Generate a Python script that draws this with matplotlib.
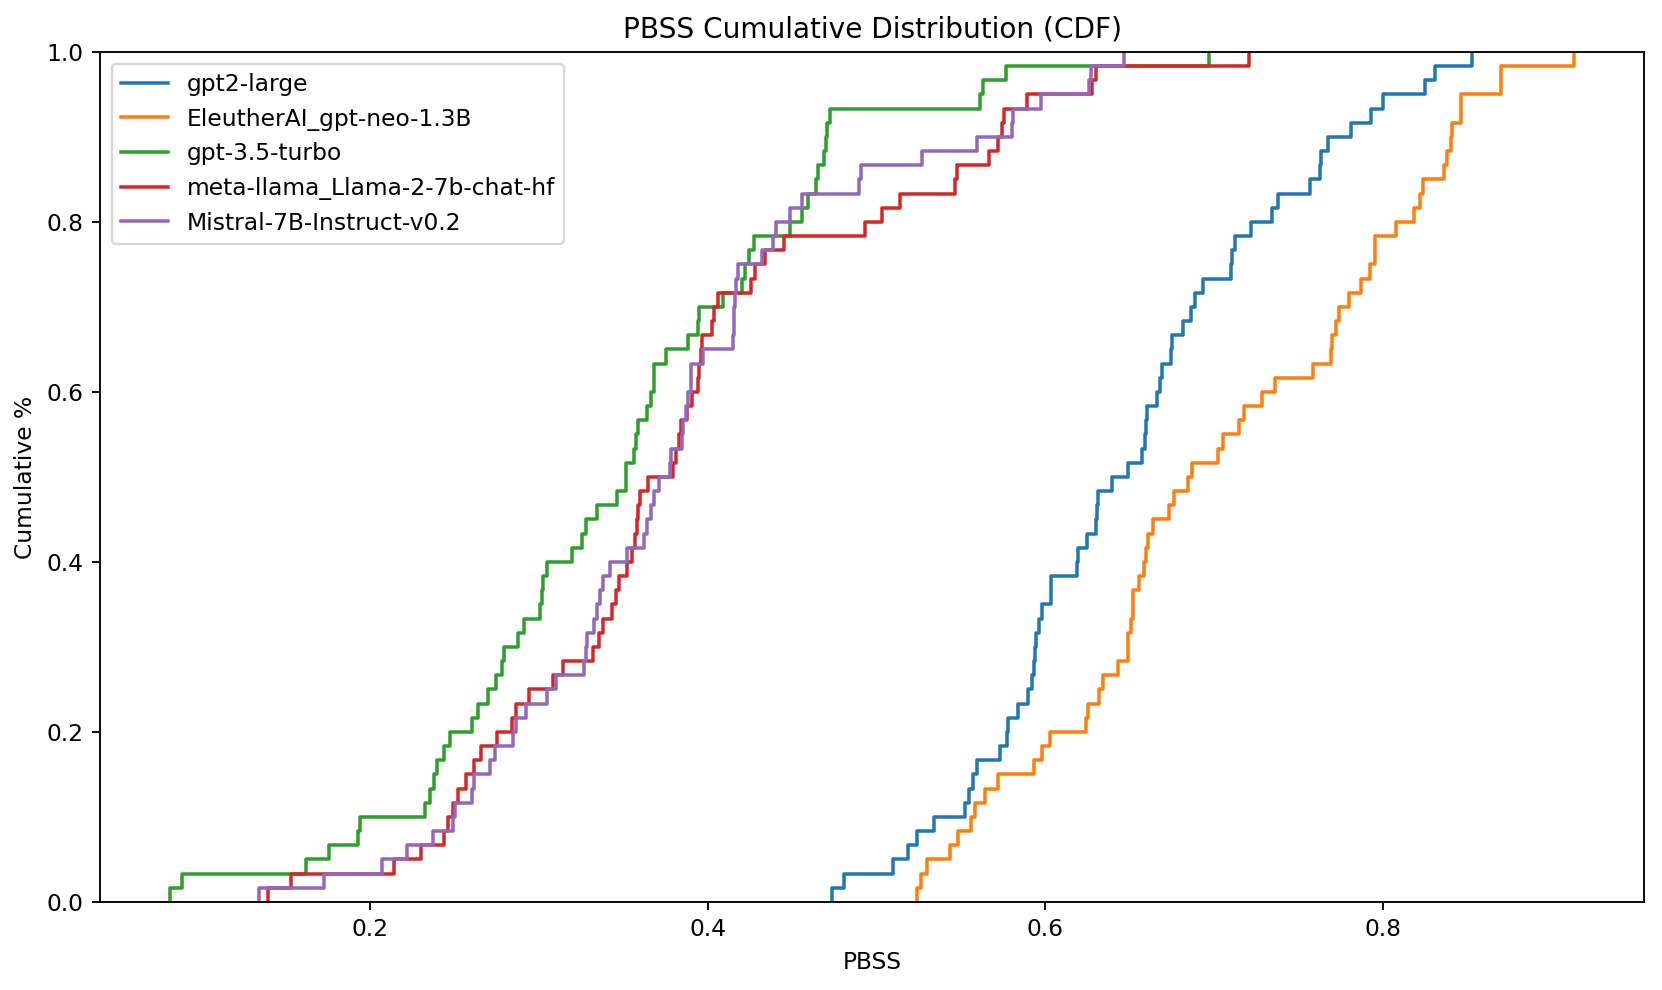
import matplotlib
matplotlib.use("Agg")
import matplotlib.pyplot as plt
import numpy as np

gpt2_large = [0.4736, 0.4805, 0.5098, 0.5187, 0.5240, 0.5339, 0.5522, 0.5546, 0.5570, 0.5595,
              0.5730, 0.5773, 0.5779, 0.5838, 0.5896, 0.5921, 0.5931, 0.5941, 0.5947, 0.5961,
              0.5984, 0.6036, 0.6036, 0.6187, 0.6193, 0.6251, 0.6302, 0.6310, 0.6316, 0.6395,
              0.6493, 0.6572, 0.6592, 0.6598, 0.6602, 0.6661, 0.6681, 0.6695, 0.6746, 0.6750,
              0.6819, 0.6865, 0.6888, 0.6937, 0.7101, 0.7105, 0.7125, 0.7223, 0.7346, 0.7381,
              0.7569, 0.7628, 0.7638, 0.7677, 0.7815, 0.7934, 0.8003, 0.8250, 0.8309, 0.8530]

gpt_neo = [0.5238, 0.5263, 0.5299, 0.5438, 0.5481, 0.5562, 0.5582, 0.5645, 0.5720, 0.5931,
           0.5984, 0.6030, 0.6245, 0.6252, 0.6320, 0.6343, 0.6430, 0.6489, 0.6489, 0.6510,
           0.6520, 0.6523, 0.6555, 0.6588, 0.6596, 0.6608, 0.6641, 0.6734, 0.6766, 0.6849,
           0.6870, 0.7024, 0.7053, 0.7147, 0.7180, 0.7283, 0.7362, 0.7589, 0.7693, 0.7701,
           0.7727, 0.7743, 0.7800, 0.7871, 0.7924, 0.7955, 0.7955, 0.8082, 0.8187, 0.8220,
           0.8240, 0.8364, 0.8384, 0.8404, 0.8412, 0.8467, 0.8467, 0.8702, 0.8702, 0.9134]

gpt35_turbo = [0.0814, 0.0883, 0.1616, 0.1757, 0.1925, 0.1939, 0.2325, 0.2353, 0.2376, 0.2395,
               0.2439, 0.2471, 0.2602, 0.2640, 0.2700, 0.2744, 0.2783, 0.2795, 0.2876, 0.2910,
               0.3004, 0.3020, 0.3026, 0.3046, 0.3198, 0.3253, 0.3277, 0.3346, 0.3464, 0.3517,
               0.3517, 0.3563, 0.3573, 0.3588, 0.3642, 0.3662, 0.3681, 0.3681, 0.3750, 0.3883,
               0.3942, 0.3948, 0.4092, 0.4204, 0.4218, 0.4244, 0.4273, 0.4490, 0.4556, 0.4595,
               0.4642, 0.4654, 0.4688, 0.4701, 0.4707, 0.4727, 0.5615, 0.5629, 0.5767, 0.6971]

llama2_chat = [0.1391, 0.1529, 0.2142, 0.2300, 0.2436, 0.2461, 0.2490, 0.2521, 0.2565, 0.2612,
               0.2659, 0.2753, 0.2841, 0.2866, 0.2941, 0.3085, 0.3142, 0.3322, 0.3356, 0.3379,
               0.3434, 0.3458, 0.3474, 0.3523, 0.3553, 0.3569, 0.3582, 0.3588, 0.3600, 0.3645,
               0.3794, 0.3810, 0.3829, 0.3839, 0.3878, 0.3904, 0.3944, 0.3948, 0.3958, 0.3967,
               0.4026, 0.4036, 0.4062, 0.4254, 0.4283, 0.4342, 0.4451, 0.4934, 0.5033, 0.5138,
               0.5467, 0.5477, 0.5665, 0.5720, 0.5743, 0.5759, 0.5891, 0.6280, 0.6300, 0.7210]

mistral = [0.1341, 0.1724, 0.2069, 0.2217, 0.2369, 0.2490, 0.2502, 0.2602, 0.2615, 0.2709,
           0.2740, 0.2847, 0.2866, 0.2922, 0.3046, 0.3099, 0.3267, 0.3277, 0.3286, 0.3326,
           0.3346, 0.3360, 0.3379, 0.3419, 0.3523, 0.3622, 0.3640, 0.3663, 0.3681, 0.3711,
           0.3774, 0.3780, 0.3845, 0.3853, 0.3869, 0.3884, 0.3898, 0.3902, 0.3972, 0.4150,
           0.4155, 0.4158, 0.4160, 0.4165, 0.4179, 0.4319, 0.4388, 0.4402, 0.4485, 0.4556,
           0.4895, 0.4911, 0.5270, 0.5595, 0.5803, 0.5808, 0.5976, 0.6262, 0.6270, 0.6470]

model_names = ['gpt2-large', 'EleutherAI_gpt-neo-1.3B', 'gpt-3.5-turbo',
               'meta-llama_Llama-2-7b-chat-hf', 'Mistral-7B-Instruct-v0.2']
model_scores = [gpt2_large, gpt_neo, gpt35_turbo, llama2_chat, mistral]

# figure at 168 dpi so fonts/lines come out at the reference size
dpi = 168
fig = plt.figure(figsize=(1662 / dpi, 990 / dpi), dpi=dpi)
ax = fig.add_axes([0.0602, 0.0889, 0.929, 0.8586])

for name, scores in zip(model_names, model_scores):
    ax.ecdf(np.array(scores), label=name, linewidth=1.5)

ax.set_ylim(0, 1)
ax.set_title('PBSS Cumulative Distribution (CDF)')
ax.set_xlabel('PBSS')
ax.set_ylabel('Cumulative %')
ax.legend(loc='upper left')

fig.savefig('out.png', dpi=dpi)
